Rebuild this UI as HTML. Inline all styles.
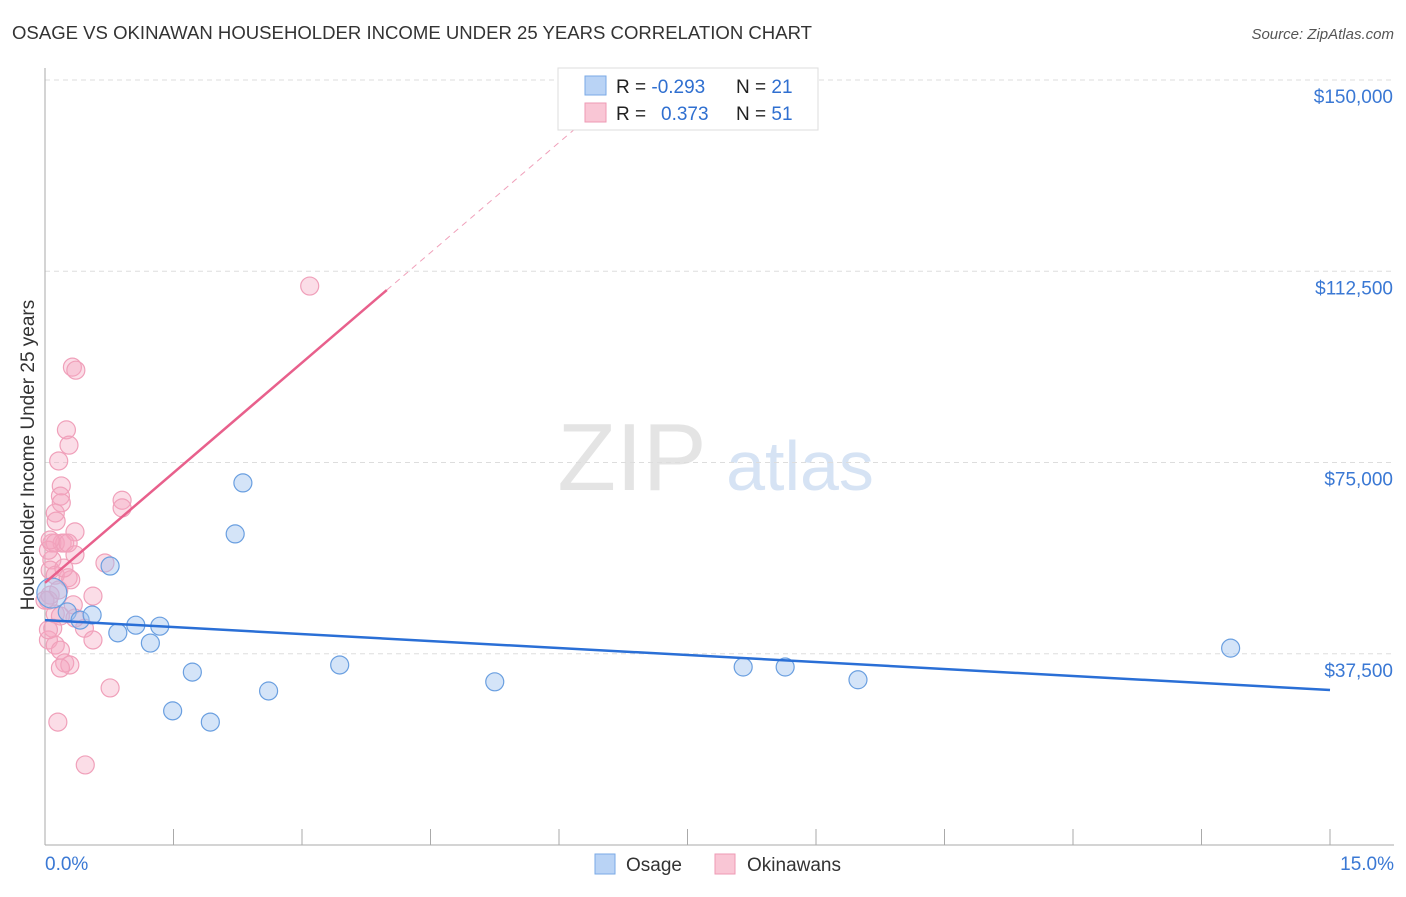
<!DOCTYPE html>
<html><head><meta charset="utf-8"><style>
body{margin:0;background:#fff;font-family:"Liberation Sans",sans-serif;}
svg text{font-family:"Liberation Sans",sans-serif;}
</style></head><body>
<svg id="chart" width="1406" height="892" xmlns="http://www.w3.org/2000/svg">
<text x="12" y="39" font-size="18" fill="#333" textLength="800" lengthAdjust="spacingAndGlyphs">OSAGE VS OKINAWAN HOUSEHOLDER INCOME UNDER 25 YEARS CORRELATION CHART</text>
<text x="1394" y="39" font-size="15" fill="#555" font-style="italic" text-anchor="end">Source: ZipAtlas.com</text>
<g>
<text x="632" y="490" font-size="96" fill="#e4e4e4" text-anchor="middle" font-family="Liberation Serif">ZIP</text>
<text x="800" y="490" font-size="70" fill="#d6e3f4" text-anchor="middle">atlas</text>
</g>
<g id="grid"></g><g id="axes"></g><g id="marks"></g>
<text transform="translate(34,455) rotate(-90)" font-size="19" fill="#333" text-anchor="middle">Householder Income Under 25 years</text>
<g>
<rect x="558" y="68" width="260" height="62" fill="#fff" stroke="#ddd"/>
<rect x="585" y="76" width="21" height="19" fill="#b9d3f5" stroke="#7aa9e6"/>
<rect x="585" y="103" width="21" height="19" fill="#f9c6d5" stroke="#ee9ab4"/>
<text x="616" y="93" font-size="19" fill="#222">R = <tspan fill="#2f6fd0">-0.293</tspan><tspan x="736">N = </tspan><tspan fill="#2f6fd0">21</tspan></text>
<text x="616" y="120" font-size="19" fill="#222">R = <tspan x="661" fill="#2f6fd0">0.373</tspan><tspan x="736">N = </tspan><tspan fill="#2f6fd0">51</tspan></text>
</g>
<g>
<rect x="595" y="854" width="20" height="20" fill="#b9d3f5" stroke="#7aa9e6"/>
<text x="626" y="871" font-size="19" fill="#333">Osage</text>
<rect x="715" y="854" width="20" height="20" fill="#f9c6d5" stroke="#ee9ab4"/>
<text x="747" y="871" font-size="19" fill="#333">Okinawans</text>
</g>
</svg>
<script>
const xTickCount = 10;
const yTicks = [37500, 75000, 112500, 150000];
const yTickLabels = ["$37,500", "$75,000", "$112,500", "$150,000"];
const xEndLabels = ["0.0%", "15.0%"];
const osageX = [0.08,0.26,0.41,0.55,0.76,0.85,1.06,1.23,1.34,1.72,1.49,1.93,2.22,2.31,2.61,3.44,5.25,8.15,8.64,9.49,13.84];
const osageY = [49.4,45.7,44.1,45.1,54.7,41.6,43.1,39.6,42.9,33.9,26.3,24.1,61.0,71.0,30.2,35.3,32.0,34.9,34.9,32.4,38.6];
const okiX = [0.32,0.36,0.25,0.28,0.16,0.19,0.18,0.19,0.12,0.13,0.35,0.08,0.12,0.20,0.23,0.27,0.35,0.08,0.06,0.12,0.27,0.30,0.56,0.33,0.06,0.04,0.12,0.18,0.46,0.56,0.04,0.12,0.18,0.23,0.29,0.18,0.76,0.15,0.47,3.09,0.90,0.90,0.70,0.09,0.04,0.0,0.16,0.04,0.06,0.22,0.35];
const okiY = [93.7,93.1,81.4,78.4,75.3,70.4,68.4,67.1,65.1,63.5,61.4,59.2,59.2,59.2,59.2,59.2,56.9,55.9,53.9,52.9,52.4,52.0,48.8,47.1,49.0,48.0,45.3,44.9,42.5,40.2,40.2,39.2,38.2,35.7,35.3,34.7,30.8,24.1,15.7,109.6,67.6,66.1,55.3,42.5,42.2,48.0,50.0,57.8,59.8,54.3,44.5];
const osageTrend = [44.1, 30.4];
const okiTrend = [51.4, 14.39];
const NS="http://www.w3.org/2000/svg";
const xs = v => 45 + v/15*1285;
const ys = v => 845 - v/150*765;
function mk(tag, attrs, parent){const e=document.createElementNS(NS,tag);for(const k in attrs)e.setAttribute(k,attrs[k]);document.getElementById(parent).appendChild(e);return e;}
yTicks.forEach((t,i)=>{
  const g=mk('line',{x1:45,x2:1394,y1:ys(t/1000),y2:ys(t/1000),stroke:'#ddd','stroke-dasharray':'5,4'},'grid');
  
  
  const l=mk('text',{x:1393,y:ys(t/1000)+23,'font-size':19,fill:'#3a78d4','text-anchor':'end'},'axes');
  l.textContent=yTickLabels[i];
  
  
});
const ax=mk('line',{x1:45,x2:1394,y1:845,y2:845,stroke:'#aaa'},'axes');


const ay=mk('line',{x1:45,x2:45,y1:68,y2:845,stroke:'#aaa'},'axes');


for(let i=1;i<=xTickCount;i++){
  const t=mk('line',{x1:xs(i*1.5),x2:xs(i*1.5),y1:829,y2:845,stroke:'#aaa'},'axes');
  
  
}
const xl0=mk('text',{x:45,y:870,'font-size':19,fill:'#3a78d4'},'axes');xl0.textContent=xEndLabels[0];


const xl1=mk('text',{x:1394,y:870,'font-size':19,fill:'#3a78d4','text-anchor':'end'},'axes');xl1.textContent=xEndLabels[1];


okiX.forEach((x,i)=>{
  const c=mk('circle',{cx:xs(x),cy:ys(okiY[i]),r:9,fill:'rgba(245,165,192,0.38)',stroke:'#f0a0ba','stroke-width':1.2},'marks');
  
  
});
osageX.forEach((x,i)=>{
  const c=mk('circle',{cx:xs(x),cy:ys(osageY[i]),r:i===0?15:9,fill:'rgba(160,196,240,0.45)',stroke:'#6a9fe0','stroke-width':1.2},'marks');
  
  
});
const bt=mk('line',{x1:xs(0),y1:ys(osageTrend[0]),x2:xs(15),y2:ys(osageTrend[1]),stroke:'#2a6fd6','stroke-width':2.5},'marks');


const solidEnd=3.99, dashEnd=(150-okiTrend[0])/okiTrend[1];
const pt=mk('line',{x1:xs(0),y1:ys(okiTrend[0]),x2:xs(solidEnd),y2:ys(okiTrend[0]+okiTrend[1]*solidEnd),stroke:'#e8608c','stroke-width':2.5},'marks');


const pd=mk('line',{x1:xs(solidEnd),y1:ys(okiTrend[0]+okiTrend[1]*solidEnd),x2:xs(dashEnd),y2:ys(150),stroke:'#f0a0ba','stroke-width':1,'stroke-dasharray':'6,5'},'grid');


</script>
</body></html>
